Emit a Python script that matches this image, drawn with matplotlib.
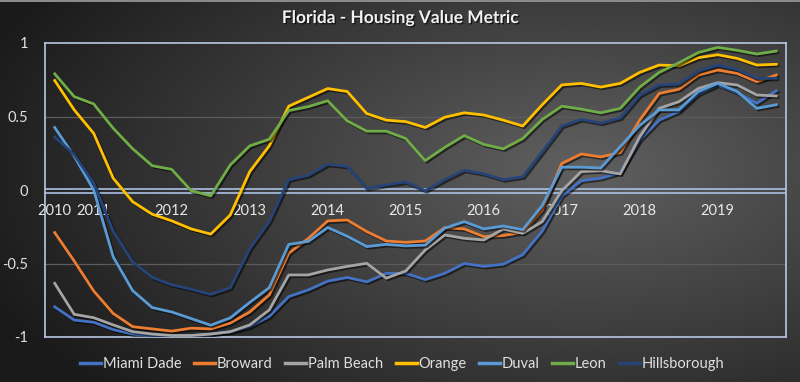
import numpy as np
import matplotlib
matplotlib.use("Agg")
import matplotlib.pyplot as plt
import matplotlib.patheffects as pe

plt.rcParams['font.family'] = ['Lato', 'DejaVu Sans']

# ---------------- data ----------------
n_points = 38  # quarterly, Q3 2010 .. Q4 2019
tick_positions = [0, 2, 6, 10, 14, 18, 22, 26, 30, 34]
tick_labels = ["2010", "2011", "2012", "2013", "2014", "2015", "2016", "2017", "2018", "2019"]

miami_dade = [-0.795, -0.885, -0.90, -0.95, -0.98, -0.99, -0.995, -0.99, -0.98, -0.965,
              -0.93, -0.86, -0.725, -0.68, -0.62, -0.595, -0.625, -0.567, -0.567, -0.61,
              -0.567, -0.50, -0.52, -0.505, -0.44, -0.28, -0.04, 0.063, 0.08, 0.118,
              0.34, 0.476, 0.533, 0.653, 0.714, 0.662, 0.59, 0.675]
broward = [-0.29, -0.483, -0.687, -0.84, -0.93, -0.945, -0.96, -0.94, -0.945, -0.905,
           -0.83, -0.714, -0.43, -0.33, -0.21, -0.204, -0.283, -0.347, -0.356, -0.347,
           -0.256, -0.265, -0.317, -0.31, -0.288, -0.136, 0.18, 0.245, 0.225, 0.254,
           0.476, 0.657, 0.685, 0.782, 0.816, 0.793, 0.737, 0.782]
palm_beach = [-0.635, -0.846, -0.869, -0.918, -0.964, -0.98, -0.99, -0.99, -0.98, -0.964,
              -0.918, -0.816, -0.578, -0.578, -0.544, -0.52, -0.499, -0.60, -0.551, -0.408,
              -0.306, -0.329, -0.34, -0.265, -0.295, -0.215, -0.005, 0.125, 0.131, 0.109,
              0.363, 0.556, 0.60, 0.69, 0.73, 0.714, 0.646, 0.64]
orange = [0.745, 0.545, 0.385, 0.08, -0.08, -0.165, -0.21, -0.265, -0.30, -0.17,
          0.125, 0.30, 0.57, 0.63, 0.69, 0.67, 0.52, 0.475, 0.465, 0.425,
          0.495, 0.525, 0.51, 0.475, 0.435, 0.58, 0.715, 0.725, 0.70, 0.725,
          0.80, 0.85, 0.845, 0.90, 0.92, 0.895, 0.85, 0.855]
duval = [0.425, 0.23, 0.0, -0.455, -0.685, -0.80, -0.83, -0.875, -0.92, -0.87,
         -0.765, -0.665, -0.37, -0.35, -0.255, -0.315, -0.385, -0.37, -0.38, -0.375,
         -0.26, -0.215, -0.265, -0.245, -0.27, -0.105, 0.155, 0.155, 0.15, 0.295,
         0.44, 0.545, 0.545, 0.67, 0.725, 0.67, 0.555, 0.58]
leon = [0.79, 0.635, 0.585, 0.42, 0.28, 0.165, 0.14, -0.005, -0.04, 0.17,
        0.30, 0.345, 0.54, 0.567, 0.607, 0.47, 0.40, 0.40, 0.35, 0.20,
        0.29, 0.37, 0.31, 0.28, 0.35, 0.48, 0.57, 0.55, 0.525, 0.555,
        0.70, 0.80, 0.865, 0.935, 0.97, 0.95, 0.925, 0.945]
hillsborough = [0.36, 0.24, 0.045, -0.28, -0.49, -0.595, -0.645, -0.675, -0.71, -0.665,
                -0.40, -0.215, 0.07, 0.10, 0.175, 0.16, 0.01, 0.035, 0.055, -0.005,
                0.07, 0.135, 0.11, 0.07, 0.09, 0.26, 0.435, 0.48, 0.455, 0.49,
                0.645, 0.715, 0.72, 0.81, 0.85, 0.82, 0.76, 0.76]

series_names = ["Miami Dade", "Broward", "Palm Beach", "Orange", "Duval", "Leon", "Hillsborough"]
series_values = [miami_dade, broward, palm_beach, orange, duval, leon, hillsborough]
series_colors = ["#4472C4", "#ED7D31", "#A5A5A5", "#FFC000", "#5B9BD5", "#70AD47", "#264478"]

# ---------------- figure ----------------
fig = plt.figure(figsize=(8.0, 3.82), dpi=100)

# background radial gradient
bg = fig.add_axes([0, 0, 1, 1], zorder=-10)
bg.set_axis_off()
W, H = 800, 382
yy, xx = np.mgrid[0:H, 0:W]
cx, cy = 580, 170
r = np.sqrt(((xx - cx) / 640.0) ** 2 + ((yy - cy) / 330.0) ** 2)
r = np.clip(r, 0, 1)
c_in = np.array([0x60, 0x60, 0x60]) / 255.0
c_out = np.array([0x1a, 0x1a, 0x1a]) / 255.0
img = c_in[None, None, :] * (1 - r[..., None]) + c_out[None, None, :] * r[..., None]
img[0:2, :, :] = np.array([0x8a, 0x8a, 0x8a]) / 255.0
bg.imshow(img, extent=[0, 1, 0, 1], aspect='auto', interpolation='bilinear')
bg.set_xlim(0, 1)
bg.set_ylim(0, 1)

ax = fig.add_axes([45 / 800, 1 - 337 / 382, (786 - 45) / 800, (337 - 43) / 382])
ax.set_facecolor('none')
x = np.arange(n_points)

for name, vals, col in zip(series_names, series_values, series_colors):
    ax.plot(x, vals, color=col, lw=2.0, label=name, solid_joinstyle='round',
            path_effects=[pe.SimpleLineShadow(offset=(1.2, -1.2), shadow_color='black', alpha=0.55),
                          pe.Normal()], zorder=3)

ax.set_xlim(-0.5, 37.5)
ax.set_ylim(-1, 1)

# gridlines
for gv in [0.5, -0.5]:
    ax.axhline(gv, color='#5c5c5c', lw=0.9, zorder=1)
# double zero line
ax.axhline(0.004, color='#a9c0e4', lw=1.2, zorder=2)
ax.axhline(-0.02, color='#a9c0e4', lw=1.2, zorder=2)

for s in ax.spines.values():
    s.set_color('#b8c8e4')
    s.set_linewidth(1.2)

ax.set_yticks([-1, -0.5, 0, 0.5, 1])
ax.set_yticklabels(["-1", "-0.5", "0", "0.5", "1"])
ax.tick_params(axis='y', length=0, pad=12, labelsize=10.5, labelcolor='#e0e0e0')
ax.set_xticks([])

sec = ax.secondary_xaxis(0.5)
sec.xaxis.set_ticks_position('bottom')
sec.set_xticks(tick_positions)
sec.set_xticklabels(tick_labels)
sec.tick_params(axis='x', length=0, pad=10, labelsize=10.5, labelcolor='#e8e8e8',
                labelbottom=True, labeltop=False)
for s in sec.spines.values():
    s.set_visible(False)

# title
fig.text(0.501, 1 - 18 / 382, "Florida - Housing Value Metric", ha='center', va='center',
         fontsize=12.5, fontweight='bold', color='#f2f2f2',
         path_effects=[pe.withSimplePatchShadow(offset=(1, -1), shadow_rgbFace='black', alpha=0.6)])

leg = fig.legend(loc='center', bbox_to_anchor=(0.503, 1 - 364 / 382), ncol=7, frameon=False,
                 fontsize=10.5, handlelength=1.45, handletextpad=0.12, columnspacing=0.85,
                 labelcolor='#e0e0e0')
for h in leg.get_lines():
    h.set_linewidth(2.5)
    h.set_path_effects([])

fig.savefig("out.png", dpi=100)
